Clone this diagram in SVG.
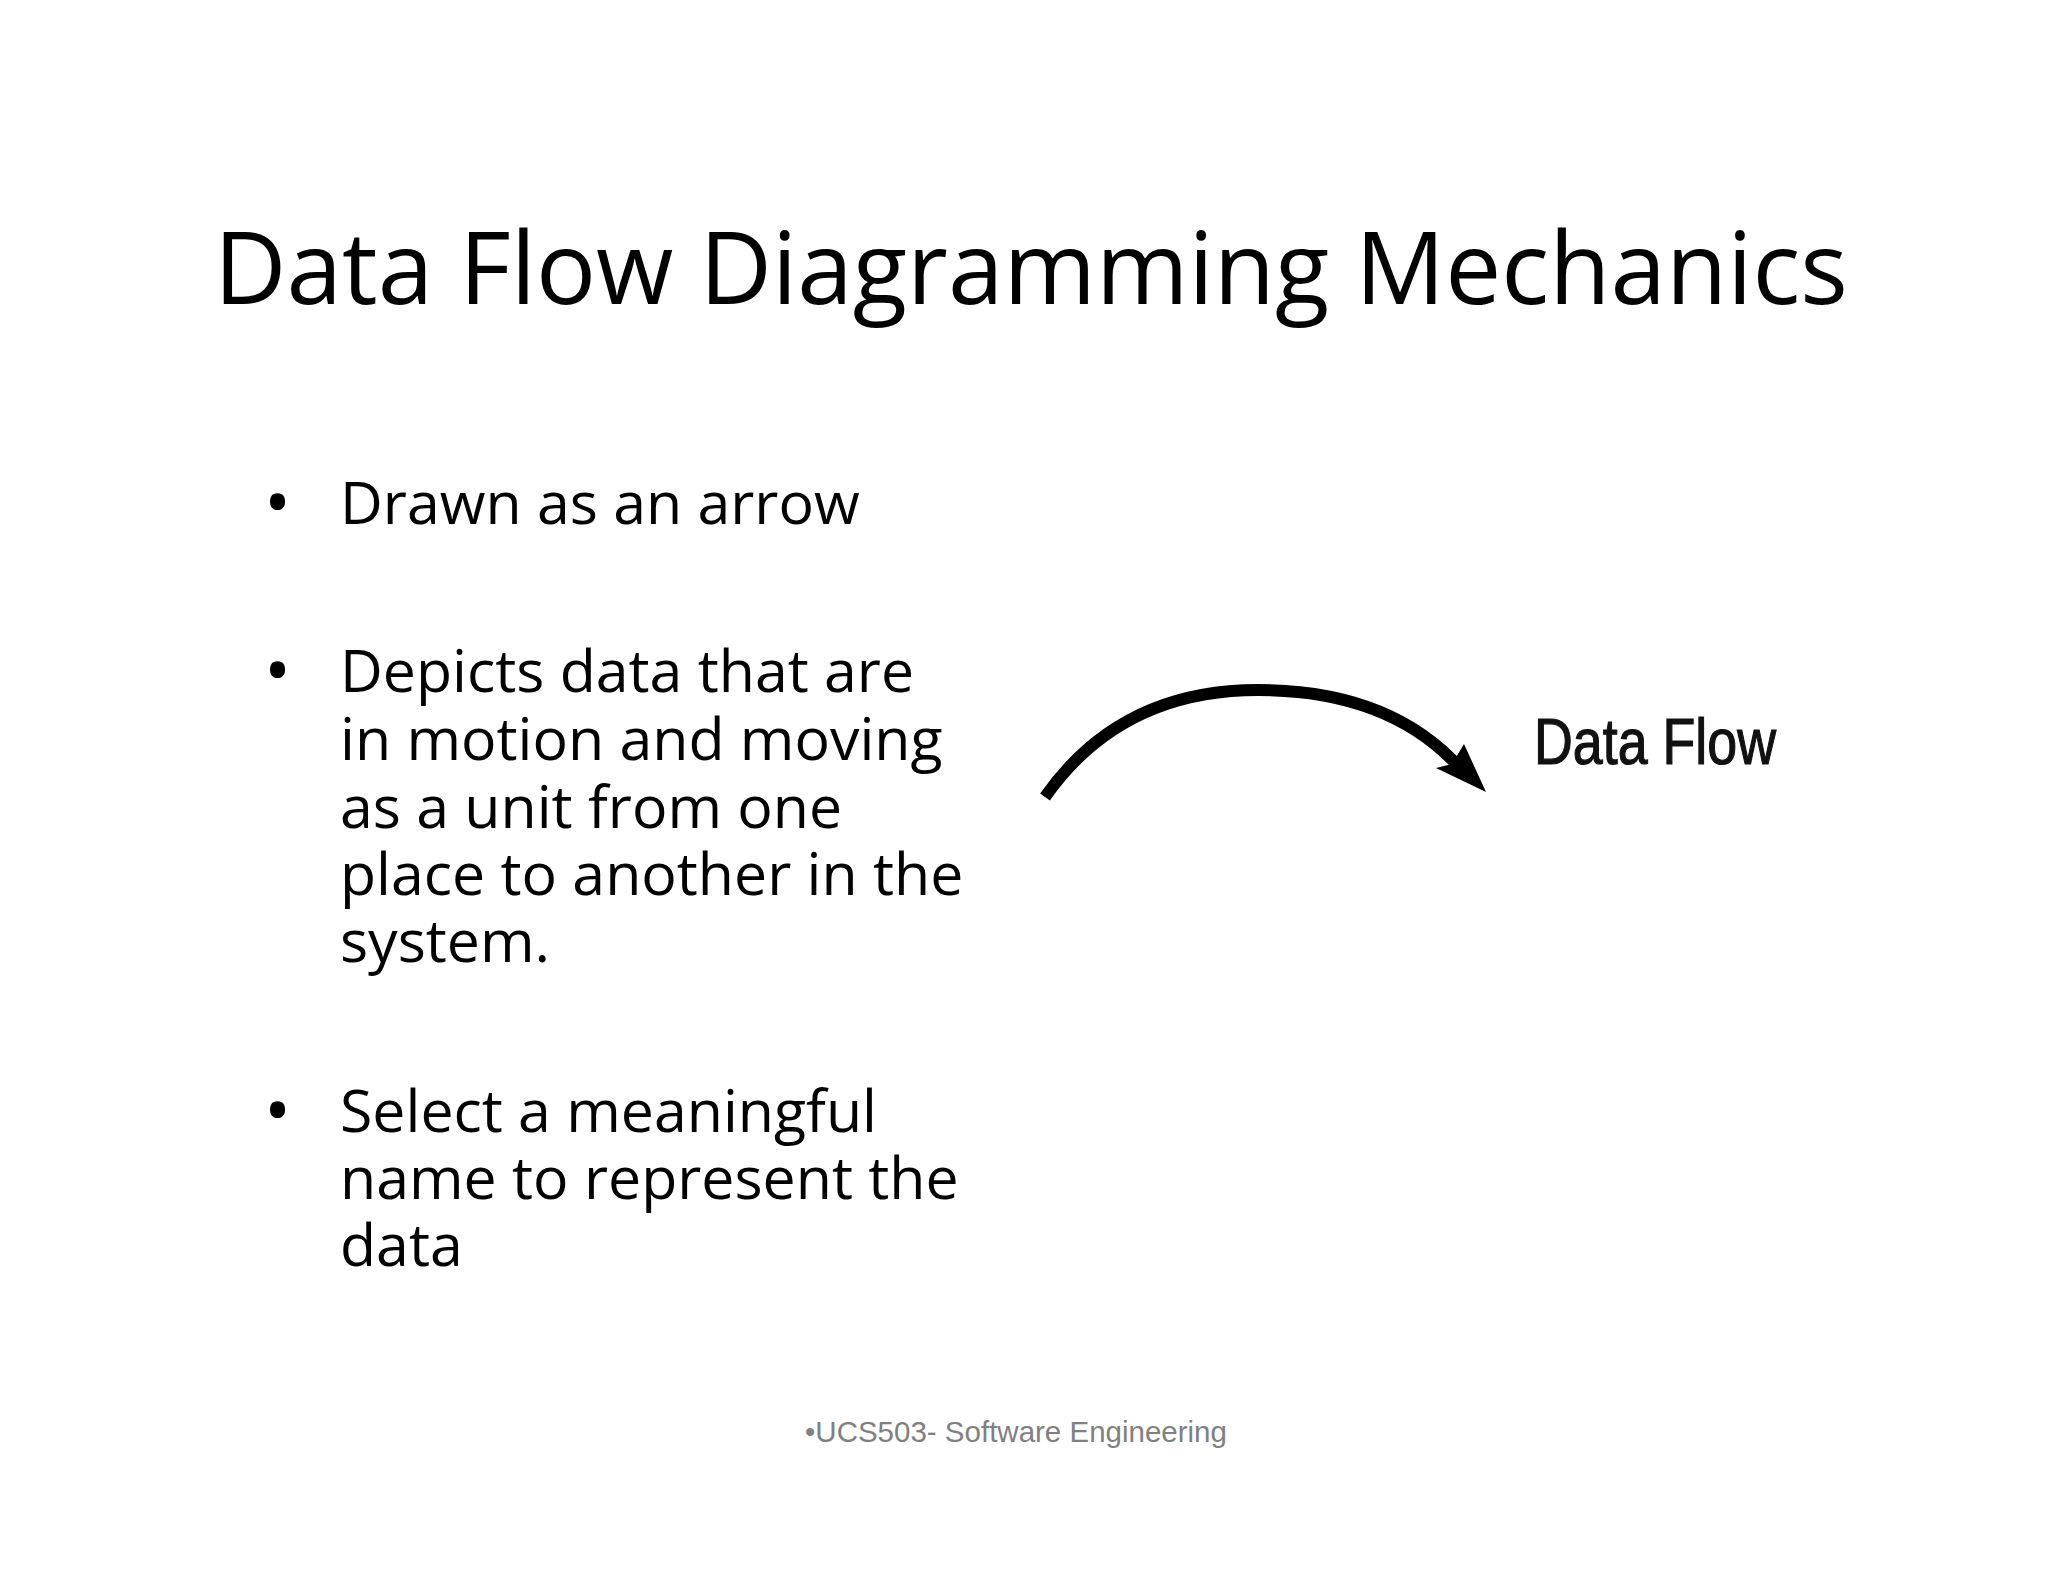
<svg xmlns="http://www.w3.org/2000/svg" width="2048" height="1582" viewBox="0 0 2048 1582">
<style>
.t{font-family:"Open Sans","DejaVu Sans",sans-serif;fill:#000}
.b{font-size:59px}
.d{font-size:72px}
</style>
<rect width="2048" height="1582" fill="#fff"/>
<text class="t" x="214" y="304" font-size="100" textLength="1634" lengthAdjust="spacingAndGlyphs">Data Flow Diagramming Mechanics</text>
<g id="bullets" class="t b">
<text class="d" x="264" y="528">•</text><text x="340" y="524">Drawn as an arrow</text>
<text class="d" x="264" y="696">•</text><text x="340" y="692">Depicts data that are</text>
<text x="340" y="760">in motion and moving</text>
<text x="340" y="828">as a unit from one</text>
<text x="340" y="895">place to another in the</text>
<text x="340" y="962">system.</text>
<text class="d" x="264" y="1136">•</text><text x="340" y="1132">Select a meaningful</text>
<text x="340" y="1199">name to represent the</text>
<text x="340" y="1266">data</text>
</g>
<g id="connectors">
<path d="M1045,797 Q1120,690 1258,690 Q1390,690 1460,768" fill="none" stroke="#000" stroke-width="12"/>
<polygon points="1486,792 1436,768 1452,764 1464,744" fill="#000"/>
</g>
<g id="label"><text x="1534" y="764" font-family="'Liberation Sans Narrow','Liberation Sans',sans-serif" font-size="64" textLength="242" lengthAdjust="spacingAndGlyphs" fill="#111" stroke="#111" stroke-width="1.2">Data Flow</text></g>
<text x="805" y="1442" font-family="'Liberation Sans',Arial,sans-serif" font-size="29.5" fill="#808080">•UCS503- Software Engineering</text>
</svg>
